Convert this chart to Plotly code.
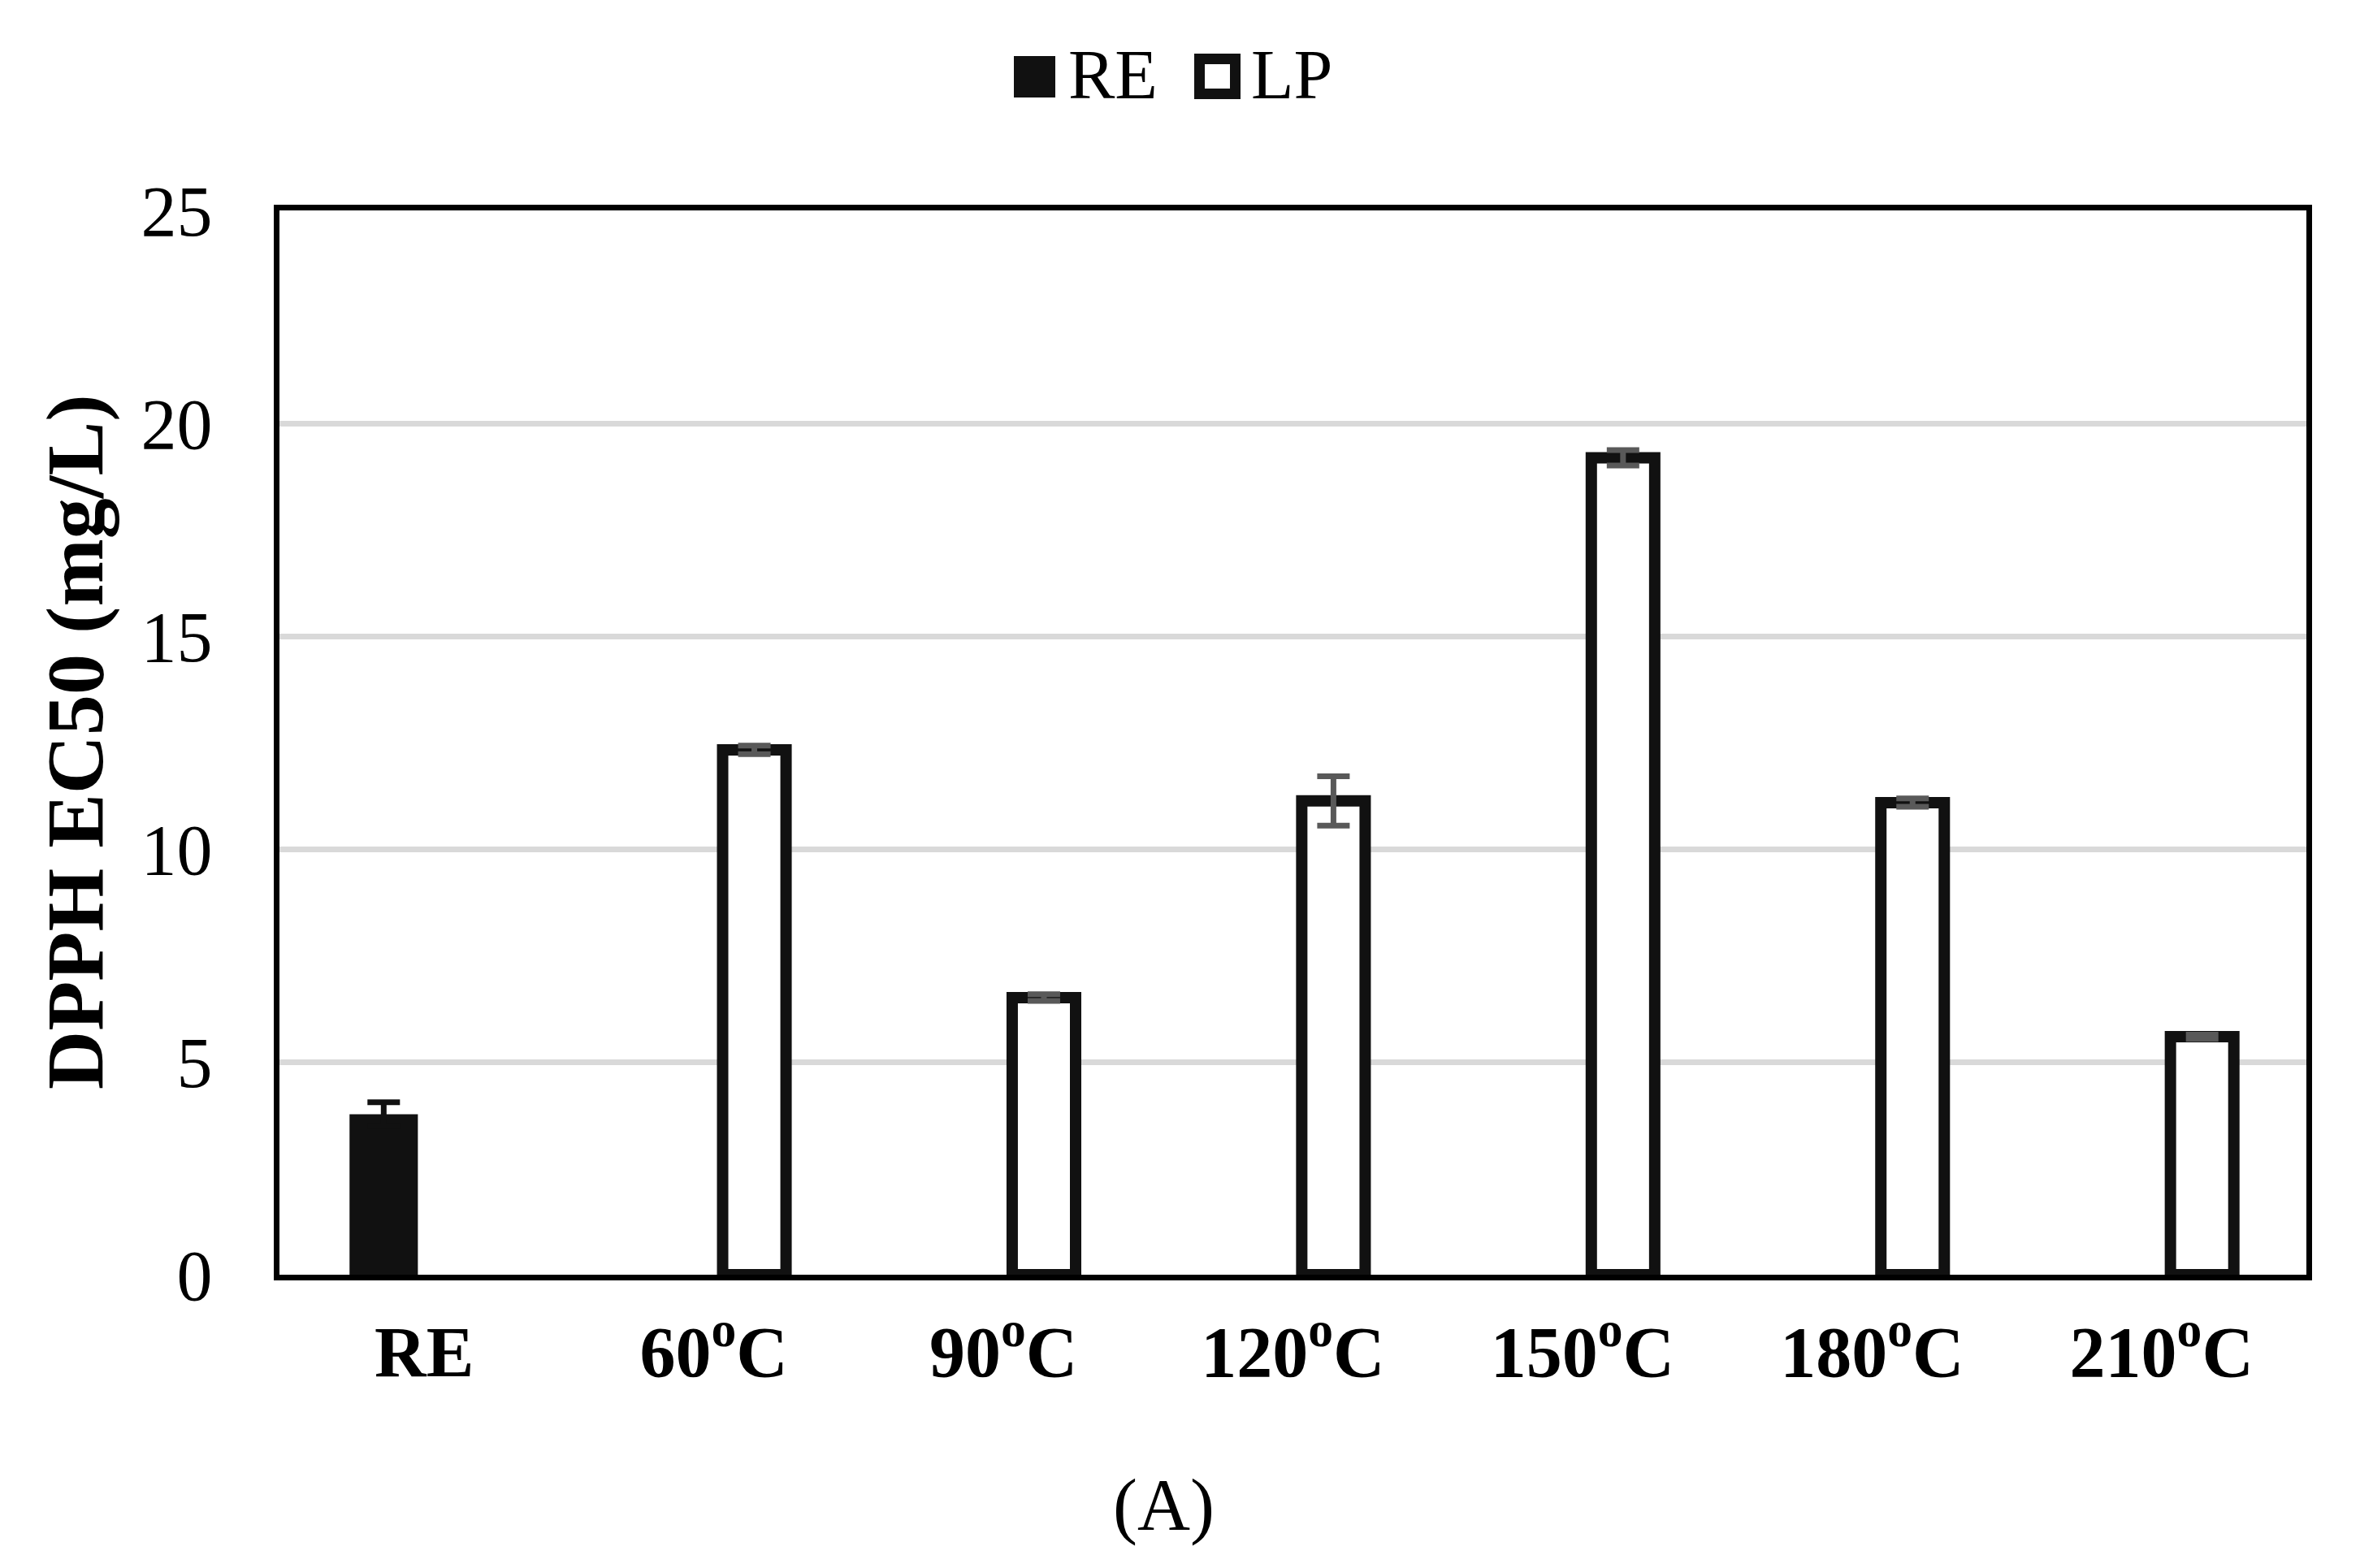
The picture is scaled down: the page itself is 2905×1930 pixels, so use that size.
import plotly.graph_objects as go

categories = ["RE", "60°C", "90°C", "120°C", "150°C", "180°C", "210°C"]
tick_labels = ["RE", "60<sup>o</sup>C", "90<sup>o</sup>C", "120<sup>o</sup>C",
               "150<sup>o</sup>C", "180<sup>o</sup>C", "210<sup>o</sup>C"]
re_values = [3.77, None, None, None, None, None, None]
re_errors = [0.28, None, None, None, None, None, None]
lp_values = [None, 12.33, 6.51, 11.13, 19.19, 11.09, 5.59]
lp_errors = [None, 0.10, 0.08, 0.58, 0.18, 0.10, 0.05]
y_ticks = [0, 5, 10, 15, 20, 25]

FONT = "Liberation Serif"
OFF = 8  # default page body margin
W, H = 2905 - 2 * OFF, 1930 - 2 * OFF
# target plot area in page pixels
PL, PR, PT, PB = 344, 2839, 259, 1569
L, T = PL - OFF, PT - OFF
R, B = W - (PR - OFF), H - (PB - OFF)
PW, PH = PR - PL, PB - PT


def px(xp):
    return (xp - PL) / PW


def py(yp):
    return (PB - yp) / PH


fig = go.Figure()
fig.add_trace(go.Bar(
    x=categories, y=re_values, name="RE",
    width=0.236, offset=-0.258,
    marker=dict(color="#111111", line=dict(width=0)),
    error_y=dict(type="data", array=re_errors, visible=True,
                 color="#111111", thickness=7, width=20),
    showlegend=False,
))
fig.add_trace(go.Bar(
    x=categories, y=lp_values, name="LP",
    width=0.219, offset=0.0305,
    marker=dict(color="white", line=dict(color="#111111", width=14)),
    error_y=dict(type="data", array=lp_errors, visible=True,
                 color="#595959", thickness=7, width=20),
    showlegend=False,
))

fig.update_layout(
    width=W, height=H,
    margin=dict(l=L, r=R, t=T, b=B, autoexpand=False),
    paper_bgcolor="white", plot_bgcolor="white",
    barmode="overlay",
    font=dict(family=FONT, color="black"),
    showlegend=False,
)
fig.update_xaxes(
    type="category", categoryorder="array", categoryarray=categories,
    tickvals=categories, ticktext=tick_labels,
    tickfont=dict(family=FONT, size=88, color="black", weight="bold"),
    showline=True, linecolor="black", linewidth=7, mirror=True,
    ticks="", showgrid=False, zeroline=False, ticklabelstandoff=12,
    range=[-0.5, 6.5],
)
fig.update_yaxes(
    range=[0, 25], tickvals=y_ticks,
    tickfont=dict(family=FONT, size=88, color="black"),
    showline=True, linecolor="black", linewidth=7, mirror=True,
    ticks="", showgrid=True, gridcolor="#d9d9d9", gridwidth=7,
    zeroline=False, ticklabelstandoff=58,
)

# custom legend (large swatches)
fig.add_shape(type="rect", xref="paper", yref="paper",
              x0=px(1248), x1=px(1299), y0=py(120), y1=py(69),
              fillcolor="#111111", line=dict(width=0))
fig.add_shape(type="rect", xref="paper", yref="paper",
              x0=px(1476.5), x1=px(1520.5), y0=py(115.5), y1=py(72.5),
              fillcolor="white", line=dict(color="#111111", width=13))
fig.add_annotation(text="RE", xref="paper", yref="paper", x=px(1313), y=py(92),
                   xanchor="left", yanchor="middle", showarrow=False,
                   font=dict(family=FONT, size=86, color="black"))
fig.add_annotation(text="LP", xref="paper", yref="paper", x=px(1538), y=py(92),
                   xanchor="left", yanchor="middle", showarrow=False,
                   font=dict(family=FONT, size=86, color="black"))

# y-axis title
fig.add_annotation(text="<b>DPPH EC50 (mg/L)</b>", xref="paper", yref="paper",
                   x=px(92), y=0.5, textangle=-90, xanchor="center", yanchor="middle",
                   showarrow=False, font=dict(family=FONT, size=100, color="black"))
# panel label
fig.add_annotation(text="(A)", xref="paper", yref="paper", x=px(1432), y=py(1853),
                   xanchor="center", yanchor="middle", showarrow=False,
                   font=dict(family=FONT, size=90, color="black"))

fig.write_html("out.html")
